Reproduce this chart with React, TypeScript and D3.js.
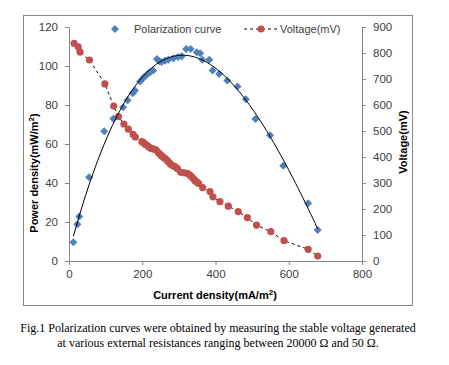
import { useEffect, useRef } from "react";
import * as d3 from "d3";

// blue diamonds: current density (mA/m2) vs power density (mW/m2)
const powerCurrent = [12, 23, 28, 55, 96, 121, 148, 160, 174, 180, 194, 201, 206, 212, 218, 223, 230, 240, 247, 253, 262, 271, 285, 298, 308, 320, 332, 349, 358, 364, 383, 392, 410, 432, 460, 483, 509, 549, 585, 653, 679];
const powerValues = [9.6, 18.8, 22.8, 43, 66.5, 72.9, 78.9, 82.5, 86, 87.5, 92, 93.5, 94.5, 95.5, 96.4, 97.1, 97.7, 103.6, 102.4, 102, 102.7, 103.2, 104, 104.6, 105, 108.7, 108.7, 107, 106.6, 103.2, 103.2, 97.7, 95.9, 92.6, 89.5, 83, 72.8, 64.5, 48.8, 29.6, 15.9];

// red circles: current density vs voltage (mV)
const voltCurrent = [14, 25, 30, 56, 98, 122, 135, 150, 162, 175, 181, 199, 204, 208, 212, 217, 222, 226, 232, 238, 244, 249, 253, 258, 262, 267, 271, 276, 280, 286, 290, 296, 305, 314, 323, 330, 335, 340, 344, 349, 354, 365, 385, 393, 412, 435, 462, 487, 512, 551, 587, 653, 679];
const voltValues = [837, 824, 804, 773, 681, 596, 555, 527, 507, 487, 477, 459, 455, 449, 446, 440, 435, 432, 430, 427, 417, 410, 404, 399, 395, 388, 382, 375, 369, 365, 362, 355, 341, 339, 337, 330, 324, 316, 309, 304, 298, 282, 267, 247, 228, 211, 190, 167, 138, 113, 78, 45, 19];

const xTicks = [0, 200, 400, 600, 800];
const leftTicks = [0, 20, 40, 60, 80, 100, 120];
const rightTicks = [0, 100, 200, 300, 400, 500, 600, 700, 800, 900];

const captionLines = [
	"Fig.1 Polarization curves were obtained by measuring the stable voltage generated",
	"at various external resistances ranging between 20000 \u03a9 and 50 \u03a9.",
];

const BLUE = "#4f81bd";
const RED = "#c0504d";
const AXIS = "#868686";
const LABEL = "#404040";
const FONT = "'Liberation Sans', Arial, sans-serif";
const DIAMOND = "M0,-4L4,0L0,4L-4,0Z";

// least squares polynomial fit (trendline like the spreadsheet's)
const polyFit = (xs: number[], ys: number[], order: number) => {
	const n = order + 1;
	const m: number[][] = Array.from({ length: n }, () => new Array(n + 1).fill(0));
	xs.forEach((x, k) => {
		for (let i = 0; i < n; i++) {
			for (let j = 0; j < n; j++) m[i][j] += Math.pow(x, i + j);
			m[i][n] += ys[k] * Math.pow(x, i);
		}
	});
	for (let i = 0; i < n; i++) {
		let p = i;
		for (let r = i + 1; r < n; r++) if (Math.abs(m[r][i]) > Math.abs(m[p][i])) p = r;
		[m[i], m[p]] = [m[p], m[i]];
		for (let r = 0; r < n; r++) {
			if (r === i) continue;
			const f = m[r][i] / m[i][i];
			for (let c = i; c <= n; c++) m[r][c] -= f * m[i][c];
		}
	}
	const coef = m.map((row, i) => row[n] / row[i]);
	return (x: number) => coef.reduce((s, c, i) => s + c * Math.pow(x, i), 0);
};

export default function App() {
	const ref = useRef<SVGSVGElement>(null);

	useEffect(() => {
		if (!ref.current) return;
		const svg = d3.select(ref.current);
		svg.selectAll("*").remove();

		const width = 449;
		const height = 365;
		const margin = { top: 27, right: 87, bottom: 104, left: 69 };

		svg.append("rect").attr("width", width).attr("height", height).attr("fill", "#fff");
		svg
			.append("rect")
			.attr("x", 23.5)
			.attr("y", 15.5)
			.attr("width", 389)
			.attr("height", 290)
			.attr("fill", "none")
			.attr("stroke", AXIS)
			.attr("stroke-width", 1);

		const x = d3.scaleLinear().domain([0, 800]).range([margin.left, width - margin.right]);
		const yL = d3.scaleLinear().domain([0, 120]).range([height - margin.bottom, margin.top]);
		const yR = d3.scaleLinear().domain([0, 900]).range([height - margin.bottom, margin.top]);

		const styleAxis = (g: d3.Selection<SVGGElement, unknown, null, undefined>) => {
			g.select(".domain").attr("stroke", AXIS);
			g.selectAll(".tick line").attr("stroke", AXIS);
			g.selectAll("text").attr("fill", LABEL).attr("font-size", 11.5).attr("font-family", FONT);
		};

		svg
			.append("g")
			.attr("transform", `translate(0,${height - margin.bottom})`)
			.call(d3.axisBottom(x).tickValues(xTicks).tickSizeInner(4).tickSizeOuter(0).tickPadding(5))
			.call(styleAxis);
		svg
			.append("g")
			.attr("transform", `translate(${margin.left},0)`)
			.call(d3.axisLeft(yL).tickValues(leftTicks).tickSizeInner(4).tickSizeOuter(0).tickPadding(7))
			.call(styleAxis);
		svg
			.append("g")
			.attr("transform", `translate(${width - margin.right},0)`)
			.call(d3.axisRight(yR).tickValues(rightTicks).tickSizeInner(4).tickSizeOuter(0).tickPadding(7))
			.call(styleAxis);

		// voltage dashed line + circles
		const voltPts = voltCurrent.map((c, i) => [c, voltValues[i]] as [number, number]);
		svg
			.append("path")
			.datum(voltPts)
			.attr("fill", "none")
			.attr("stroke", "#000")
			.attr("stroke-width", 1)
			.attr("stroke-dasharray", "3,3")
			.attr("d", d3.line<[number, number]>().x((d) => x(d[0])).y((d) => yR(d[1])));
		svg
			.append("g")
			.selectAll("circle")
			.data(voltPts)
			.join("circle")
			.attr("cx", (d) => x(d[0]))
			.attr("cy", (d) => yR(d[1]))
			.attr("r", 3.6)
			.attr("fill", RED);

		// power diamonds
		const powerPts = powerCurrent.map((c, i) => [c, powerValues[i]] as [number, number]);
		svg
			.append("g")
			.selectAll("path")
			.data(powerPts)
			.join("path")
			.attr("transform", (d) => `translate(${x(d[0])},${yL(d[1])})`)
			.attr("d", DIAMOND)
			.attr("fill", BLUE);

		// polynomial trendline
		const fit = polyFit(powerCurrent, powerValues, 3);
		const [x0, x1] = d3.extent(powerCurrent) as [number, number];
		const trend = d3.range(0, 101).map((i) => {
			const c = x0 + ((x1 - x0) * i) / 100;
			return [c, fit(c)] as [number, number];
		});
		svg
			.append("path")
			.datum(trend)
			.attr("fill", "none")
			.attr("stroke", "#000")
			.attr("stroke-width", 1)
			.attr("d", d3.line<[number, number]>().x((d) => x(d[0])).y((d) => yL(d[1])));

		// legend
		const legend = svg.append("g").attr("font-family", FONT).attr("font-size", 11).attr("fill", LABEL);
		legend.append("path").attr("transform", "translate(115,29)").attr("d", DIAMOND).attr("fill", BLUE);
		legend.append("text").attr("x", 134).attr("y", 33).text("Polarization curve");
		legend
			.append("line")
			.attr("x1", 244)
			.attr("x2", 277)
			.attr("y1", 29)
			.attr("y2", 29)
			.attr("stroke", "#000")
			.attr("stroke-dasharray", "3,3");
		legend.append("circle").attr("cx", 261).attr("cy", 29).attr("r", 3.6).attr("fill", RED);
		legend.append("text").attr("x", 280).attr("y", 33).text("Voltage(mV)");

		// axis titles
		const titles = svg.append("g").attr("font-family", FONT).attr("font-size", 11).attr("font-weight", "bold").attr("fill", "#000");
		titles.append("text").attr("x", 215).attr("y", 299).attr("text-anchor", "middle").html("Current density(mA/m<tspan dy='-4' font-size='8'>2</tspan><tspan dy='4'>)</tspan>");
		titles
			.append("text")
			.attr("transform", "translate(38,173) rotate(-90)")
			.attr("text-anchor", "middle")
			.html("Power density(mW/m<tspan dy='-4' font-size='8'>2</tspan><tspan dy='4'>)</tspan>");
		titles
			.append("text")
			.attr("transform", "translate(407,142) rotate(-90)")
			.attr("text-anchor", "middle")
			.text("Voltage(mV)");

		// caption
		svg
			.append("g")
			.attr("font-family", "'Liberation Serif', 'Times New Roman', serif")
			.attr("font-size", 12)
			.attr("fill", "#000")
			.selectAll("text")
			.data(captionLines)
			.join("text")
			.attr("x", 218)
			.attr("y", (_, i) => 332 + i * 15)
			.attr("text-anchor", "middle")
			.text((d) => d);
	}, []);

	return <svg ref={ref} width={449} height={365} style={{ position: "absolute", left: 0, top: 0 }} />;
}
